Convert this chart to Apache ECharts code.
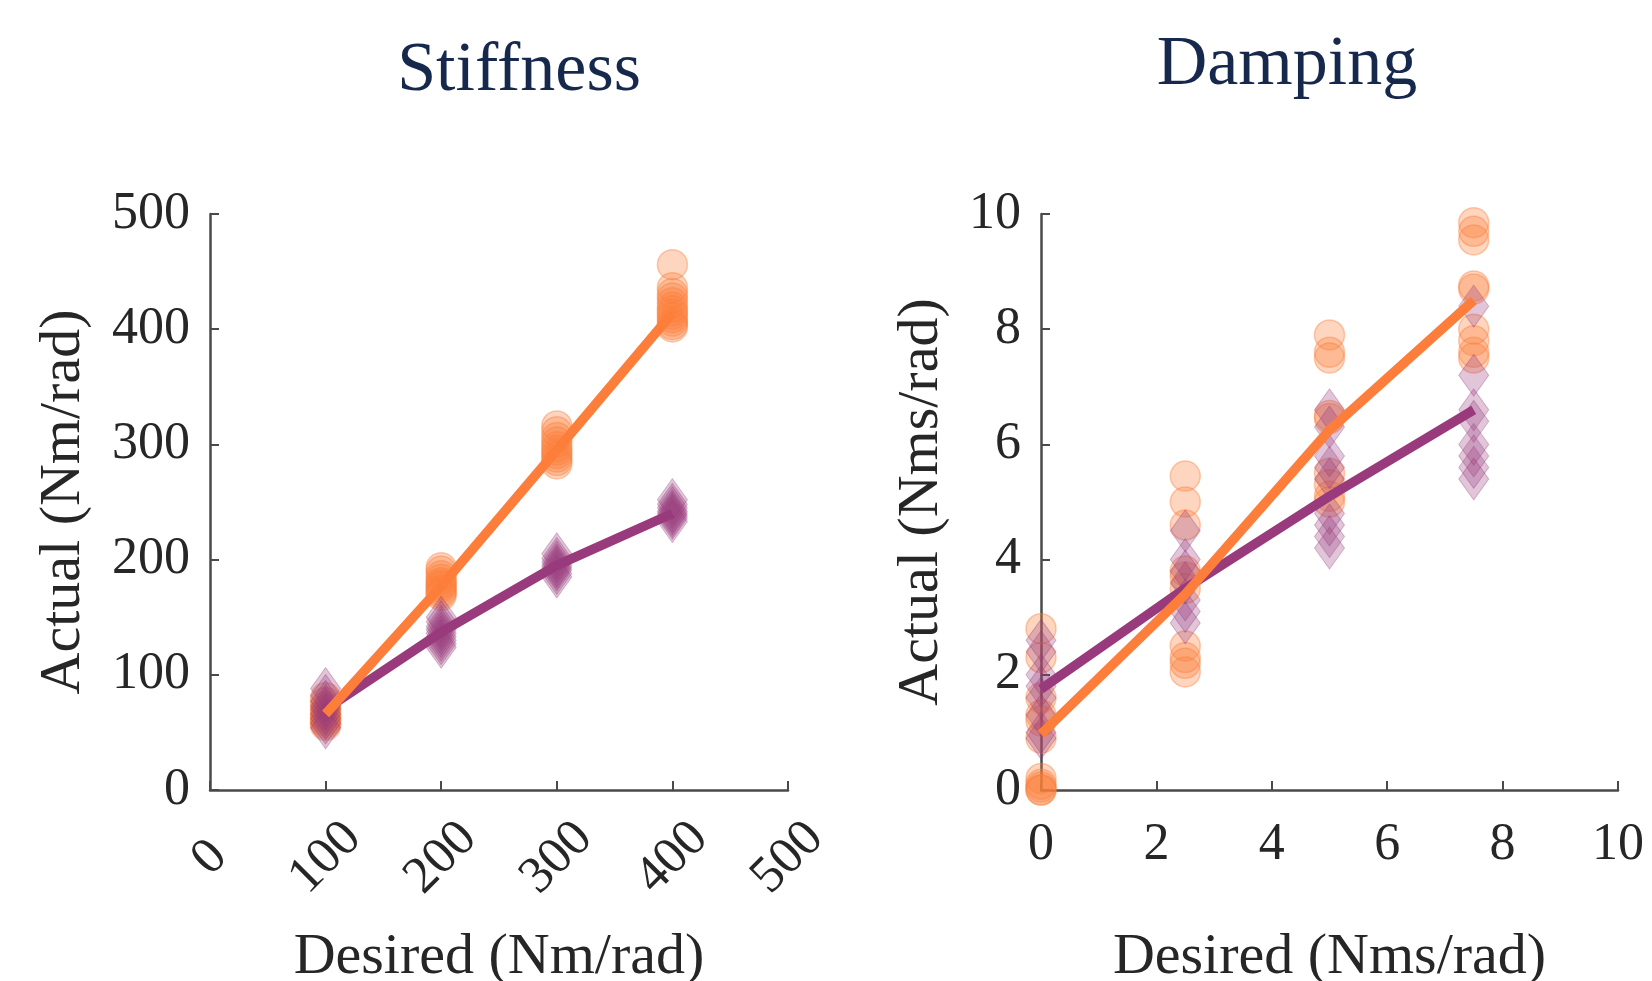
<!DOCTYPE html>
<html>
<head>
<meta charset="utf-8">
<script src="https://cdn.jsdelivr.net/npm/echarts@6/dist/echarts.min.js"></script>
<style>
  html, body { margin: 0; padding: 0; background: #fff; }
  #main { width: 1652px; height: 981px; }
</style>
</head>
<body>
<div id="main"></div>
<script>
// stiffness panel
const stiffDesired = [100, 200, 300, 400]
const stiffOrange = [
  [80, 76, 72, 69, 66, 64, 62, 60, 58, 56],
  [193, 190, 186, 183, 180, 178, 176, 173, 171, 169],
  [316, 311, 306, 302, 298, 295, 292, 289, 286, 283],
  [456, 436, 431, 427, 423, 419, 416, 413, 410, 407, 404, 402]
]
const stiffPurple = [
  [88, 82, 77, 73, 70, 66, 62, 58, 54],
  [150, 146, 142, 139, 136, 133, 130, 127, 124],
  [205, 201, 198, 195, 193, 191, 188, 185],
  [252, 248, 245, 242, 240, 238, 236, 233]
]
const stiffOrangeMean = [66, 177, 295, 414]
const stiffPurpleMean = [70, 137, 195, 240]

// damping panel
const dampDesired = [0, 2.5, 5, 7.5]
const dampOrange = [
  [2.8, 2.3, 1.6, 1.3, 1.2, 0.9, 0.2, 0.1, 0.05, 0, 0],
  [5.45, 5.0, 4.6, 3.8, 3.7, 3.5, 2.5, 2.3, 2.2, 2.05],
  [7.9, 7.6, 7.5, 6.5, 6.45, 5.5, 5.3, 5.1, 5.0],
  [9.85, 9.7, 9.55, 8.75, 8.7, 8.0, 7.8, 7.6, 7.5]
]
const dampPurple = [
  [2.6, 2.4, 2.0, 1.8, 1.6, 1.3, 1.0, 0.9],
  [4.5, 4.0, 3.8, 3.6, 3.3, 3.1, 2.9],
  [6.6, 6.3, 5.8, 5.6, 5.4, 4.8, 4.6, 4.4, 4.2],
  [8.4, 7.2, 6.6, 6.4, 6.0, 5.8, 5.6, 5.4]
]
const dampOrangeMean = [0.97, 3.4, 6.25, 8.5]
const dampPurpleMean = [1.75, 3.5, 5.1, 6.6]

const ORANGE = '#fd7e3a'
const PURPLE = '#993a7c'
const SERIF = '"Liberation Serif", "Times New Roman", serif'
const TXT = '#262626'

let chart = echarts.init(document.getElementById('main'))

function pts (xs, groups) {
  let out = []
  groups.forEach((g, i) => g.forEach(v => out.push([xs[i], v])))
  return out
}
function meanPts (xs, ys) {
  return xs.map((x, i) => [x, ys[i]])
}

function axisCommon (extra) {
  return Object.assign({
    type: 'value',
    splitLine: { show: false },
    axisLine: { show: true, lineStyle: { color: '#4a4a4a', width: 2.5 } },
    axisTick: { show: true, inside: true, length: 9, lineStyle: { color: '#4a4a4a', width: 2 } },
    nameLocation: 'middle',
    nameTextStyle: { fontFamily: SERIF, fontSize: 58, color: TXT },
    axisLabel: { fontFamily: SERIF, fontSize: 52, color: TXT }
  }, extra)
}

function panelSeries (idx, xs, orange, purple, oMean, pMean) {
  return [
    {
      type: 'scatter', xAxisIndex: idx, yAxisIndex: idx,
      symbol: 'circle', symbolSize: 30,
      itemStyle: { color: 'rgba(253,126,58,0.4)', borderColor: 'rgba(253,126,58,0.5)', borderWidth: 1.5 },
      data: pts(xs, orange), z: 2
    },
    {
      type: 'scatter', xAxisIndex: idx, yAxisIndex: idx,
      symbol: 'diamond', symbolSize: [30, 42],
      itemStyle: { color: 'rgba(153,58,124,0.36)', borderColor: 'rgba(153,58,124,0.42)', borderWidth: 1 },
      data: pts(xs, purple), z: 3
    },
    {
      type: 'line', xAxisIndex: idx, yAxisIndex: idx,
      showSymbol: false, silent: true,
      lineStyle: { color: PURPLE, width: 9.5 },
      data: meanPts(xs, pMean), z: 4
    },
    {
      type: 'line', xAxisIndex: idx, yAxisIndex: idx,
      showSymbol: false, silent: true,
      lineStyle: { color: ORANGE, width: 9.5 },
      data: meanPts(xs, oMean), z: 5
    }
  ]
}

let option = {
  backgroundColor: '#fff',
  animation: false,
  title: [
    { text: 'Stiffness', left: 514, top: 32, textAlign: 'center',
      textStyle: { fontFamily: SERIF, fontSize: 70, fontWeight: 'normal', color: '#16294d' } },
    { text: 'Damping', left: 1282, top: 26, textAlign: 'center',
      textStyle: { fontFamily: SERIF, fontSize: 70, fontWeight: 'normal', color: '#16294d' } }
  ],
  grid: [
    { left: 210, top: 214, width: 578, height: 576, outerBoundsMode: 'none', containLabel: false },
    { left: 1041, top: 214, width: 577, height: 576, outerBoundsMode: 'none', containLabel: false }
  ],
  xAxis: [
    axisCommon({
      gridIndex: 0, min: 0, max: 500, interval: 100,
      name: 'Desired (Nm/rad)', nameGap: 139,
      axisLabel: { fontFamily: SERIF, fontSize: 52, color: TXT, rotate: 45, align: 'center', verticalAlign: 'middle', margin: 68 }
    }),
    axisCommon({
      gridIndex: 1, min: 0, max: 10, interval: 2,
      name: 'Desired (Nms/rad)', nameGap: 139,
      axisLabel: { fontFamily: SERIF, fontSize: 52, color: TXT, margin: 29 }
    })
  ],
  yAxis: [
    axisCommon({
      gridIndex: 0, min: 0, max: 500, interval: 100,
      name: 'Actual (Nm/rad)', nameGap: 117,
      axisLabel: { fontFamily: SERIF, fontSize: 52, color: TXT, margin: 20 }
    }),
    axisCommon({
      gridIndex: 1, min: 0, max: 10, interval: 2,
      name: 'Actual (Nms/rad)', nameGap: 90,
      axisLabel: { fontFamily: SERIF, fontSize: 52, color: TXT, margin: 20 }
    })
  ],
  series: [].concat(
    panelSeries(0, stiffDesired, stiffOrange, stiffPurple, stiffOrangeMean, stiffPurpleMean),
    panelSeries(1, dampDesired, dampOrange, dampPurple, dampOrangeMean, dampPurpleMean)
  )
}

chart.setOption(option)
</script>
</body>
</html>
